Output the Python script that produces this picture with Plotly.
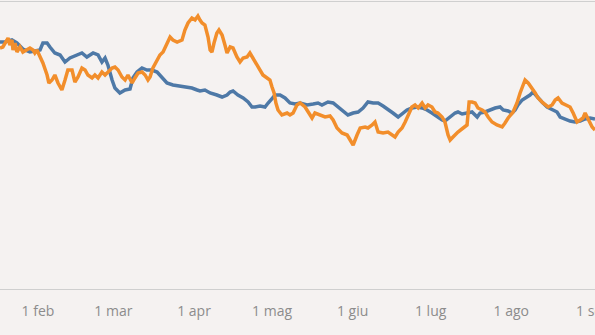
import pandas as pd
import plotly.graph_objects as go

# Day offsets from 2020-01-01 and index values
blue_days = [
    16.4, 18.3, 21.0, 22.9, 25.2, 27.9, 29.8, 31.8, 32.9, 34.5,
    35.6, 37.5, 39.5, 41.4, 43.3, 46.0, 47.9, 49.8, 52.2, 54.1,
    55.6, 56.8, 57.9, 59.5, 60.6, 62.5, 64.5, 66.4, 67.5, 69.1,
    71.0, 72.9, 74.8, 76.8, 78.7, 80.6, 82.9, 85.6, 88.3, 90.2,
    92.2, 93.3, 95.2, 97.2, 99.8, 101.8, 103.7, 104.9, 106.0, 107.9,
    109.9, 111.8, 113.3, 114.5, 116.4, 118.3, 119.5, 121.0, 122.2, 124.1,
    126.0, 127.9, 129.9, 131.8, 134.5, 136.8, 138.7, 140.2, 142.5, 144.5,
    146.4, 148.3, 150.2, 152.2, 154.1, 156.0, 157.9, 159.9, 161.8, 163.7,
    165.6, 167.5, 169.5, 171.0, 172.9, 174.8, 176.8, 178.7, 180.6, 182.5,
    184.5, 186.4, 187.5, 189.5, 191.4, 192.5, 194.1, 196.0, 197.9, 199.9,
    201.0, 202.9, 204.8, 206.8, 208.7, 209.9, 211.8, 213.3, 214.5, 215.6,
    217.2, 219.1, 220.2, 221.4, 222.9, 224.8, 226.8, 228.7, 230.6, 231.8,
    233.7, 235.6, 237.5, 239.5, 241.4, 243.3, 245.2,
]
blue_values = [
    247, 247, 249, 246, 240, 237, 238, 239, 246, 246,
    242, 236, 234, 227, 231, 234, 236, 232, 236, 234,
    227, 231, 224, 209, 201, 196, 199, 200, 211, 217,
    221, 219, 219, 217, 211, 206, 204, 203, 202, 201,
    199, 198, 199, 196, 194, 192, 194, 197, 198, 194,
    191, 187, 182, 182, 183, 182, 186, 191, 194, 194,
    191, 186, 185, 186, 184, 185, 186, 184, 187, 186,
    182, 177, 174, 176, 177, 181, 187, 186, 186, 183,
    179, 176, 172, 175, 179, 181, 182, 181, 179, 176,
    172, 169, 168, 172, 176, 177, 175, 176, 177, 172,
    176, 177, 179, 181, 182, 179, 178, 176, 179, 184,
    189, 192, 194, 197, 192, 187, 182, 179, 177, 172,
    170, 168, 167, 168, 170, 171, 170,
]

orange_days = [
    16.4, 17.5, 19.1, 19.5, 20.2, 21.0, 21.4, 22.2, 22.9, 24.1,
    25.2, 26.8, 27.9, 29.1, 29.8, 30.6, 31.8, 32.9, 34.5, 35.2,
    36.4, 37.5, 38.7, 40.2, 41.4, 42.5, 44.1, 45.2, 46.4, 47.9,
    49.1, 50.2, 51.8, 52.9, 54.1, 55.6, 56.8, 57.9, 59.5, 60.6,
    61.8, 63.3, 64.5, 65.6, 67.2, 68.3, 69.5, 71.0, 72.2, 73.3,
    74.1, 75.2, 76.8, 77.9, 79.1, 80.6, 81.8, 82.9, 84.5, 86.4,
    87.5, 88.7, 90.2, 91.4, 92.5, 93.3, 94.1, 95.2, 96.4, 97.2,
    97.9, 98.7, 99.8, 100.6, 101.8, 102.9, 103.7, 104.9, 106.0, 107.5,
    108.7, 109.9, 111.4, 112.5, 113.7, 115.2, 116.4, 117.5, 119.1, 120.2,
    121.0, 121.8, 122.5, 123.3, 124.8, 126.8, 127.9, 129.1, 130.6, 131.8,
    133.7, 134.8, 136.4, 137.5, 139.5, 141.4, 143.3, 144.5, 146.0, 147.9,
    149.9, 151.0, 152.2, 153.7, 154.9, 156.8, 157.9, 159.5, 160.6, 161.8,
    163.7, 165.6, 167.2, 168.3, 169.5, 171.0, 172.2, 173.3, 174.8, 176.0,
    177.2, 178.7, 179.9, 181.0, 182.5, 183.7, 184.8, 186.4, 187.5, 188.7,
    189.5, 190.6, 192.5, 194.5, 196.0, 196.8, 197.9, 199.1, 200.2, 201.8,
    202.9, 204.1, 205.6, 207.5, 209.5, 210.6, 211.8, 213.7, 215.2, 216.4,
    217.5, 218.3, 219.5, 221.0, 222.2, 223.3, 225.2, 227.2, 228.7, 229.9,
    231.0, 232.5, 234.5, 235.6, 236.8, 238.3, 239.5, 240.6, 241.4, 242.5,
    244.1, 245.2,
]
orange_values = [
    241, 242, 249, 251, 244, 249, 239, 246, 237, 242,
    237, 239, 241, 239, 236, 239, 232, 226, 214, 206,
    209, 214, 206, 199, 209, 219, 219, 207, 212, 221,
    219, 214, 211, 214, 211, 217, 214, 217, 221, 222,
    219, 212, 209, 214, 206, 211, 216, 217, 214, 209,
    212, 221, 229, 234, 237, 246, 252, 249, 247, 249,
    259, 266, 271, 269, 273, 269, 266, 264, 252, 239,
    237, 246, 256, 259, 254, 244, 236, 242, 241, 232,
    227, 231, 232, 236, 231, 224, 219, 214, 211, 209,
    202, 196, 186, 179, 174, 176, 174, 176, 184, 186,
    182, 177, 171, 176, 174, 172, 173, 169, 161, 156,
    154, 149, 144, 154, 161, 162, 161, 164, 167, 157,
    156, 157, 154, 152, 157, 161, 167, 174, 182, 184,
    181, 186, 181, 184, 182, 177, 176, 172, 167, 154,
    149, 152, 157, 161, 164, 187, 187, 186, 181, 179,
    177, 172, 167, 164, 162, 166, 171, 177, 186, 196,
    204, 209, 206, 201, 196, 191, 186, 182, 184, 189,
    191, 186, 184, 182, 176, 167, 169, 171, 176, 171,
    162, 159,
]

tick_dates = ["2020-02-01", "2020-03-01", "2020-04-01", "2020-05-01",
              "2020-06-01", "2020-07-01", "2020-08-01"]
tick_labels = ["1 feb", "1 mar", "1 apr", "1 mag", "1 giu", "1 lug", "1 ago"]
edge_tick_date = "2020-09-01"
edge_tick_label = "1 set"

assert len(blue_days) == len(blue_values)
assert len(orange_days) == len(orange_values)

base = pd.Timestamp("2020-01-01")
def to_dates(days):
    return [base + pd.Timedelta(days=d) for d in days]

BG = "#f5f2f1"
TICK_FONT = dict(family="Open Sans", size=14, color="#8c8c8c")
fig = go.Figure()
fig.add_trace(go.Scatter(x=to_dates(blue_days), y=blue_values, mode="lines",
                         line=dict(color="#4e79a7", width=3.5), showlegend=False))
fig.add_trace(go.Scatter(x=to_dates(orange_days), y=orange_values, mode="lines",
                         line=dict(color="#f28e2b", width=3.5), showlegend=False))

# tick label at the clipped right edge (partially cut off by the page)
fig.add_annotation(x=edge_tick_date, y=0, xref="x", yref="paper",
                   text=edge_tick_label, showarrow=False,
                   xanchor="center", yanchor="top", yshift=-10, font=TICK_FONT)

fig.update_layout(
    width=595, height=335,
    margin=dict(l=0, r=0, t=2, b=46),
    paper_bgcolor=BG, plot_bgcolor=BG,
    font=TICK_FONT,
)
fig.update_xaxes(
    range=[base + pd.Timedelta(days=16.4), base + pd.Timedelta(days=245.2)],
    tickvals=tick_dates, ticktext=tick_labels,
    showgrid=False, zeroline=False,
    showline=True, linecolor="#cfcfcf", linewidth=1, mirror=True,
    ticks="", ticklabelstandoff=9,
)
fig.update_yaxes(range=[0, 287], visible=False, showgrid=False)

fig.write_html("out.html")
